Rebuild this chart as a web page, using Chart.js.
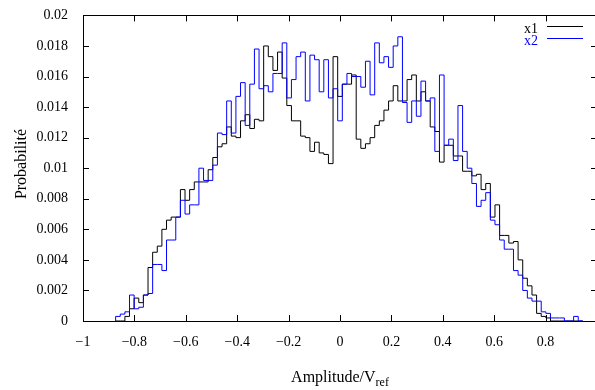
<!DOCTYPE html>
<html>
<head>
<meta charset="utf-8">
<script src="https://cdn.jsdelivr.net/npm/chart.js@4.4.1/dist/chart.umd.min.js"></script>
<style>
  html, body { margin: 0; padding: 0; background: #fff; overflow: hidden; }
</style>
</head>
<body>
<canvas id="histo" width="605" height="390"></canvas>
<script>
// histogram bins are centred on k * binWidth, k running from firstBin upwards
const binWidth = 0.018;
const firstBin = -48;

const seriesLabels = ["x1", "x2"];
const seriesColors = ["#000000", "#0000ff"];

// one value per bin, ten bins to a row
const x1Prob = [
  0, 0, 0, 0.0003, 0.0008, 0.0015, 0.0012, 0.0017, 0.0035, 0.0045,
  0.0049, 0.006, 0.0066, 0.0068, 0.0068, 0.0086, 0.0079, 0.0086, 0.0091, 0.0091,
  0.0091, 0.0099, 0.0107, 0.0114, 0.0116, 0.0127, 0.0121, 0.012, 0.0131, 0.0135,
  0.0126, 0.0132, 0.0131, 0.018, 0.0173, 0.0164, 0.0176, 0.0159, 0.0141, 0.0131,
  0.0131, 0.0121, 0.012, 0.0111, 0.0117, 0.011, 0.0109, 0.0103, 0.0173, 0.0147,
  0.0155, 0.0155, 0.0161, 0.0119, 0.0113, 0.0116, 0.012, 0.0128, 0.0131, 0.0138,
  0.0144, 0.0154, 0.0144, 0.0144, 0.0158, 0.0161, 0.0144, 0.015, 0.0144, 0.0127,
  0.0124, 0.0104, 0.0115, 0.0115, 0.0108, 0.0108, 0.0098, 0.0098, 0.0095, 0.0096,
  0.0086, 0.009, 0.0068, 0.0076, 0.0056, 0.0056, 0.0051, 0.0052, 0.004, 0.0028,
  0.0023, 0.0017, 0.0005, 0.0003, 0.0002, 0, 0, 0, 0, 0,
  0
];

const x2Prob = [
  0, 0.0003, 0.00045, 0.0006, 0.0017, 0.0008, 0.0009, 0.0017, 0.0018, 0.0037,
  0.0037, 0.0033, 0.0053, 0.0053, 0.0068, 0.0079, 0.007, 0.0076, 0.0076, 0.01,
  0.0092, 0.0092, 0.0102, 0.0123, 0.0122, 0.0144, 0.0123, 0.0147, 0.0156, 0.0128,
  0.0155, 0.0178, 0.0152, 0.0154, 0.015, 0.0162, 0.0162, 0.0182, 0.0146, 0.0158,
  0.0173, 0.0176, 0.0144, 0.0174, 0.0171, 0.015, 0.0171, 0.0146, 0.0152, 0.0131,
  0.0155, 0.0162, 0.016, 0.016, 0.0153, 0.017, 0.0148, 0.0182, 0.0169, 0.0173,
  0.0166, 0.018, 0.0186, 0.0143, 0.013, 0.0144, 0.0134, 0.0157, 0.0144, 0.0146,
  0.0111, 0.0161, 0.0115, 0.0119, 0.0105, 0.0141, 0.0111, 0.01, 0.009, 0.0075,
  0.0079, 0.0084, 0.0066, 0.0063, 0.0053, 0.0047, 0.0047, 0.0033, 0.003, 0.002,
  0.0015, 0.0013, 0.0013, 0.0006, 0.0005, 0.0002, 0.0002, 0.0002, 0, 0,
  0.0003
];

const serif = "'Liberation Serif', 'Times New Roman', serif";

// turn a list of bin heights into a closed staircase of {x, y} points
function toSteps(probs) {
  let pts = [];
  let left = (firstBin - 0.5) * binWidth;
  pts.push({ x: left, y: 0 });
  probs.forEach((p, i) => {
    pts.push({ x: left + i * binWidth, y: p });
  });
  pts.push({ x: left + probs.length * binWidth, y: 0 });
  return pts;
}

function fmt(v) {
  let s = String(parseFloat(v.toFixed(4)));
  return s.replace("-", "\u2212");
}

// frame, inward tics on all four sides, key and axis titles
const gnuFrame = {
  id: "gnuFrame",
  afterDraw(chart) {
    const ctx = chart.ctx;
    const a = chart.chartArea;
    const xs = chart.scales.x;
    const ys = chart.scales.y;
    const tic = 6;
    ctx.save();
    ctx.strokeStyle = "#000";
    ctx.lineWidth = 1;
    ctx.beginPath();
    ctx.rect(Math.round(a.left) + 0.5, Math.round(a.top) + 0.5,
      Math.round(a.right - a.left), Math.round(a.bottom - a.top));
    xs.ticks.forEach((t) => {
      let px = Math.round(xs.getPixelForValue(t.value)) + 0.5;
      ctx.moveTo(px, a.bottom);
      ctx.lineTo(px, a.bottom - tic);
      ctx.moveTo(px, a.top);
      ctx.lineTo(px, a.top + tic);
    });
    ys.ticks.forEach((t) => {
      let py = Math.round(ys.getPixelForValue(t.value)) + 0.5;
      ctx.moveTo(a.left, py);
      ctx.lineTo(a.left + tic, py);
      ctx.moveTo(a.right, py);
      ctx.lineTo(a.right - tic, py);
    });
    ctx.stroke();

    // key, text right-aligned in front of the line sample
    ctx.font = "14px " + serif;
    ctx.textAlign = "right";
    ctx.textBaseline = "middle";
    chart.data.datasets.forEach((ds, i) => {
      let y = 29 + i * 12;
      ctx.fillStyle = ds.borderColor;
      ctx.fillText(ds.label, 538, y);
      ctx.strokeStyle = ds.borderColor;
      ctx.beginPath();
      ctx.moveTo(547, y - 2.5);
      ctx.lineTo(583, y - 2.5);
      ctx.stroke();
    });

    // axis titles
    ctx.fillStyle = "#000";
    ctx.textBaseline = "alphabetic";
    ctx.textAlign = "left";
    ctx.font = "16px " + serif;
    let main = "Amplitude/V";
    let wMain = ctx.measureText(main).width;
    ctx.font = "12px " + serif;
    let sub = "ref";
    let wSub = ctx.measureText(sub).width;
    let x0 = (a.left + a.right) / 2 - (wMain + wSub) / 2;
    ctx.font = "16px " + serif;
    ctx.fillText(main, x0, 382);
    ctx.font = "12px " + serif;
    ctx.fillText(sub, x0 + wMain, 386);

    ctx.font = "16px " + serif;
    ctx.translate(26, 164);
    ctx.rotate(-Math.PI / 2);
    ctx.textAlign = "center";
    ctx.fillText("Probabilité", 0, 0);
    ctx.restore();
  }
};

new Chart(document.getElementById("histo"), {
  type: "line",
  data: {
    datasets: [
      {
        label: seriesLabels[0],
        data: toSteps(x1Prob),
        borderColor: seriesColors[0],
        borderWidth: 1,
        stepped: "after",
        pointRadius: 0,
        order: 1
      },
      {
        label: seriesLabels[1],
        data: toSteps(x2Prob),
        borderColor: seriesColors[1],
        borderWidth: 1,
        stepped: "after",
        pointRadius: 0,
        order: 0
      }
    ]
  },
  options: {
    responsive: false,
    animation: false,
    devicePixelRatio: 1,
    layout: { padding: { top: 14, right: 8, left: 0, bottom: 0 } },
    plugins: { legend: { display: false }, tooltip: { enabled: false } },
    scales: {
      x: {
        type: "linear",
        min: -1,
        max: 1,
        grid: { display: false },
        border: { display: false },
        ticks: {
          stepSize: 0.2,
          maxRotation: 0,
          padding: 5,
          color: "#000",
          font: { family: serif, size: 14 },
          // the label at the right edge falls outside the window
          callback: (v) => (v >= 0.99 ? "" : fmt(v))
        },
        afterFit: (s) => { s.height = 69; }
      },
      y: {
        min: 0,
        max: 0.02,
        grid: { display: false },
        border: { display: false },
        ticks: {
          stepSize: 0.002,
          padding: 7,
          color: "#000",
          font: { family: serif, size: 14 },
          callback: (v) => fmt(v)
        },
        afterFit: (s) => { s.width = 83; }
      }
    }
  },
  plugins: [gnuFrame]
});
</script>
</body>
</html>
